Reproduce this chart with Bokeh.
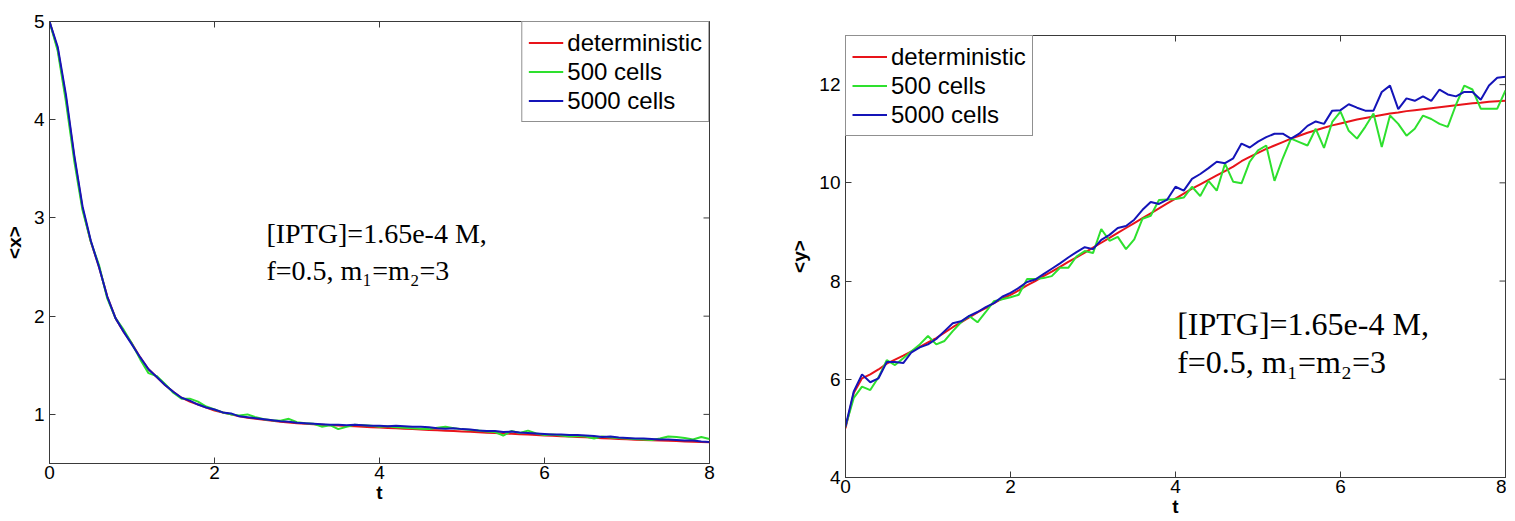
import math
from bokeh.plotting import figure
from bokeh.models import Label, Legend, LegendItem, FixedTicker, Range1d, Spacer
from bokeh.layouts import row, column
from bokeh.embed import file_html
from bokeh.resources import INLINE

# ---------------- data ----------------
T = [0.0, 0.1, 0.2, 0.3, 0.4, 0.5, 0.6, 0.7, 0.8, 0.9,
     1.0, 1.1, 1.2, 1.3, 1.4, 1.5, 1.6, 1.7, 1.8, 1.9,
     2.0, 2.1, 2.2, 2.3, 2.4, 2.5, 2.6, 2.7, 2.8, 2.9,
     3.0, 3.1, 3.2, 3.3, 3.4, 3.5, 3.6, 3.7, 3.8, 3.9,
     4.0, 4.1, 4.2, 4.3, 4.4, 4.5, 4.6, 4.7, 4.8, 4.9,
     5.0, 5.1, 5.2, 5.3, 5.4, 5.5, 5.6, 5.7, 5.8, 5.9,
     6.0, 6.1, 6.2, 6.3, 6.4, 6.5, 6.6, 6.7, 6.8, 6.9,
     7.0, 7.1, 7.2, 7.3, 7.4, 7.5, 7.6, 7.7, 7.8, 7.9,
     8.0]

X_DET = [5.00, 4.72, 4.22, 3.62, 3.10, 2.76, 2.50, 2.20, 1.98, 1.84,
         1.72, 1.58, 1.46, 1.38, 1.30, 1.23, 1.17, 1.13, 1.10, 1.07,
         1.04, 1.02, 1.00, 0.98, 0.965, 0.955, 0.945, 0.935, 0.925, 0.918,
         0.911, 0.905, 0.900, 0.895, 0.890, 0.886, 0.882, 0.878, 0.874, 0.870,
         0.866, 0.862, 0.858, 0.854, 0.850, 0.846, 0.842, 0.838, 0.834, 0.830,
         0.826, 0.822, 0.818, 0.814, 0.810, 0.806, 0.802, 0.798, 0.794, 0.790,
         0.786, 0.782, 0.778, 0.774, 0.770, 0.766, 0.762, 0.758, 0.754, 0.750,
         0.746, 0.743, 0.740, 0.737, 0.734, 0.731, 0.728, 0.725, 0.722, 0.719,
         0.716]

X_500 = [5.00, 4.70, 4.18, 3.58, 3.08, 2.76, 2.52, 2.18, 1.98, 1.86,
         1.72, 1.56, 1.42, 1.39, 1.31, 1.22, 1.16, 1.16, 1.13, 1.08,
         1.05, 1.02, 1.00, 0.99, 1.00, 0.97, 0.95, 0.94, 0.935, 0.955,
         0.92, 0.91, 0.905, 0.875, 0.89, 0.85, 0.875, 0.895, 0.89, 0.885,
         0.875, 0.88, 0.87, 0.865, 0.86, 0.855, 0.85, 0.865, 0.875, 0.86,
         0.85, 0.84, 0.835, 0.825, 0.82, 0.785, 0.83, 0.81, 0.835, 0.805,
         0.79, 0.795, 0.785, 0.775, 0.78, 0.775, 0.755, 0.775, 0.765, 0.76,
         0.755, 0.75, 0.745, 0.74, 0.755, 0.775, 0.77, 0.76, 0.745, 0.77,
         0.75]

X_5000 = [5.00, 4.74, 4.25, 3.64, 3.12, 2.77, 2.50, 2.20, 1.98, 1.84,
          1.71, 1.58, 1.46, 1.38, 1.30, 1.23, 1.17, 1.14, 1.10, 1.07,
          1.05, 1.02, 1.01, 0.98, 0.97, 0.96, 0.95, 0.94, 0.93, 0.925,
          0.915, 0.91, 0.905, 0.90, 0.895, 0.895, 0.89, 0.895, 0.89, 0.885,
          0.885, 0.88, 0.885, 0.88, 0.875, 0.875, 0.87, 0.86, 0.855, 0.86,
          0.85, 0.845, 0.835, 0.83, 0.83, 0.82, 0.825, 0.815, 0.81, 0.805,
          0.80, 0.795, 0.795, 0.79, 0.79, 0.785, 0.78, 0.77, 0.775, 0.765,
          0.76, 0.755, 0.755, 0.75, 0.745, 0.745, 0.74, 0.735, 0.735, 0.725,
          0.72]

Y_DET = [5.00, 5.72, 6.02, 6.10, 6.20, 6.32, 6.40, 6.48, 6.57, 6.66,
         6.75, 6.84, 6.95, 7.06, 7.16, 7.26, 7.36, 7.45, 7.55, 7.64,
         7.72, 7.81, 7.91, 8.00, 8.10, 8.19, 8.29, 8.39, 8.48, 8.58,
         8.68, 8.78, 8.88, 8.98, 9.08, 9.18, 9.28, 9.38, 9.48, 9.58,
         9.68, 9.78, 9.88, 9.97, 10.06, 10.15, 10.24, 10.33, 10.44, 10.53,
         10.61, 10.69, 10.76, 10.83, 10.90, 10.96, 11.02, 11.07, 11.12, 11.17,
         11.21, 11.25, 11.29, 11.32, 11.35, 11.38, 11.41, 11.43, 11.46, 11.48,
         11.50, 11.52, 11.54, 11.56, 11.58, 11.60, 11.62, 11.63, 11.65, 11.66,
         11.67]

Y_500 = [5.04, 5.62, 5.85, 5.78, 6.04, 6.39, 6.29, 6.43, 6.57, 6.71,
         6.88, 6.71, 6.78, 6.98, 7.16, 7.29, 7.16, 7.37, 7.59, 7.63,
         7.67, 7.72, 8.04, 8.04, 8.06, 8.10, 8.27, 8.27, 8.50, 8.61,
         8.57, 9.06, 8.82, 8.90, 8.65, 8.85, 9.27, 9.33, 9.65, 9.66,
         9.67, 9.70, 9.92, 9.73, 10.04, 9.84, 10.39, 10.02, 9.99, 10.43,
         10.66, 10.76, 10.04, 10.50, 10.90, 10.83, 10.76, 11.10, 10.71, 11.24,
         11.45, 11.06, 10.90, 11.14, 11.41, 10.73, 11.37, 11.20, 10.96, 11.10,
         11.37, 11.30, 11.20, 11.14, 11.59, 11.98, 11.90, 11.51, 11.51, 11.51,
         11.88]

Y_5000 = [5.04, 5.75, 6.10, 5.94, 6.02, 6.35, 6.35, 6.33, 6.55, 6.65,
          6.71, 6.82, 6.98, 7.14, 7.18, 7.29, 7.37, 7.47, 7.55, 7.68,
          7.76, 7.86, 7.98, 8.03, 8.14, 8.25, 8.36, 8.48, 8.59, 8.69,
          8.65, 8.84, 8.94, 9.08, 9.12, 9.25, 9.45, 9.61, 9.57, 9.66,
          9.92, 9.84, 10.08, 10.18, 10.30, 10.43, 10.40, 10.50, 10.80, 10.72,
          10.84, 10.93, 11.00, 11.00, 10.90, 11.00, 11.16, 11.25, 11.20, 11.47,
          11.48, 11.60, 11.53, 11.47, 11.47, 11.85, 11.98, 11.50, 11.72, 11.67,
          11.76, 11.67, 11.90, 11.80, 11.76, 11.85, 11.85, 11.69, 11.98, 12.14,
          12.16]

SERIES_LABELS = ["deterministic", "500 cells", "5000 cells"]
X_TICKS = [0, 2, 4, 6, 8]
LEFT_Y_TICKS = [1, 2, 3, 4, 5]
RIGHT_Y_TICKS = [4, 6, 8, 10, 12]
X_LIMITS = (0, 8)
LEFT_Y_LIMITS = (0.5, 5)
RIGHT_Y_LIMITS = (4, 13)
NOTE_LINE1 = "[IPTG]=1.65e-4 M,"
NOTE_LINE2 = "f=0.5, m\u2081=m\u2082=3"

for arr in (X_DET, X_500, X_5000, Y_DET, Y_500, Y_5000):
    assert len(arr) == len(T)

# ---------------- style ----------------
COLORS = ["#e8141a", "#2ee02e", "#1414b8"]
AX = "#3a3a3a"
SANS = "Liberation Sans"
SERIF = "Liberation Serif"


def style_axis(ax):
    ax.axis_line_color = AX
    ax.major_tick_line_color = AX
    ax.major_tick_in = 6
    ax.major_tick_out = 0
    ax.minor_tick_line_color = None
    ax.major_label_text_font = SANS
    ax.major_label_text_color = "black"
    ax.major_label_text_font_size = "19px"
    ax.axis_label_text_font = SANS
    ax.axis_label_text_font_size = "19px"
    ax.axis_label_text_font_style = "bold"
    ax.axis_label_text_color = "black"


def panel(ys, ylim, yticks, ylabel, frame_h, borders, legend_loc,
          note_xy, note_size):
    bl, br, bt, bb = borders
    p = figure(frame_width=660, frame_height=frame_h, title_location=None,
               x_range=Range1d(*X_LIMITS), y_range=Range1d(*ylim),
               output_backend="svg", toolbar_location=None,
               min_border_left=bl, min_border_right=br,
               min_border_top=bt, min_border_bottom=bb)
    p.xgrid.visible = False
    p.ygrid.visible = False
    p.outline_line_color = AX
    p.outline_line_alpha = 1
    p.background_fill_color = "white"
    p.border_fill_color = "white"

    p.xaxis.ticker = FixedTicker(ticks=X_TICKS)
    p.yaxis.ticker = FixedTicker(ticks=yticks)
    style_axis(p.xaxis[0])
    style_axis(p.yaxis[0])
    p.yaxis.axis_label = ylabel
    p.yaxis.axis_label_standoff = 6
    p.yaxis.major_label_standoff = 5
    p.xaxis.axis_label = "t"
    p.xaxis.axis_label_standoff = 0
    p.xaxis.major_label_standoff = 2

    # mirrored inward ticks on the top and right edges (half of each dash
    # is clipped by the frame, leaving a 6px inward tick)
    p.scatter(X_TICKS, [ylim[1]] * len(X_TICKS), marker="dash", size=12,
              angle=math.pi / 2, line_color=AX, line_width=1)
    p.scatter([X_LIMITS[1]] * len(yticks), yticks, marker="dash", size=12,
              line_color=AX, line_width=1)

    renderers = []
    for vals, c in zip(ys, COLORS):
        renderers.append(p.line(T, vals, line_color=c, line_width=2))

    items = [LegendItem(label=lab, renderers=[r])
             for lab, r in zip(SERIES_LABELS, renderers)]
    leg = Legend(items=items, location=legend_loc, margin=0, padding=6,
                 spacing=0, glyph_width=35, glyph_height=29, label_height=29,
                 label_standoff=4, border_line_color="#222222",
                 border_line_width=1, background_fill_alpha=1,
                 label_text_font=SANS, label_text_font_size="24px",
                 label_text_color="black")
    p.add_layout(leg)

    nx, ny1, ny2 = note_xy
    for txt, yy in ((NOTE_LINE1, ny1), (NOTE_LINE2, ny2)):
        p.add_layout(Label(x=nx, y=yy, text=txt, text_font=SERIF,
                           text_font_size=note_size, text_color="black",
                           text_baseline="alphabetic"))
    return p


left = panel([X_DET, X_500, X_5000], LEFT_Y_LIMITS, LEFT_Y_TICKS, "<x>",
             442, (42, 68, 21, 46), "top_right",
             (2.63, 2.84, 2.47), "28px")

right = panel([Y_DET, Y_500, Y_5000], RIGHT_Y_LIMITS, RIGHT_Y_TICKS, "<y>",
              442, (68, 1, 21, 46), "top_left",
              (4.02, 7.12, 6.36), "32px")

layout = row(left, column(Spacer(width=10, height=14), right))
open("out.html", "w").write(file_html(layout, INLINE))
